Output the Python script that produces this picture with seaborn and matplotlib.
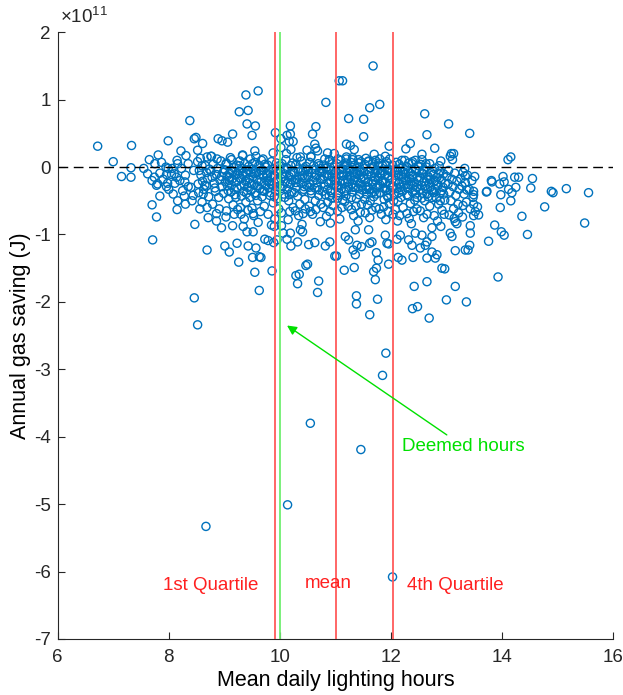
import numpy as np
import pandas as pd
import matplotlib
matplotlib.use("Agg")
import matplotlib.pyplot as plt
from matplotlib.ticker import FuncFormatter
import seaborn as sns

# Points: (mean daily lighting hours, annual gas saving / 1e11 J)
outliers = [(10.14, -5.01), (8.67, -5.33), (10.55, -3.80), (11.46, -4.19), (11.91, -2.76),
            (11.85, -3.09), (8.46, -1.94), (8.52, -2.34), (9.63, -1.83), (10.32, -1.73),
            (10.68, -1.86), (10.70, -1.69), (11.38, -1.91), (11.38, -2.03), (11.76, -1.96),
            (11.62, -2.19), (11.72, -1.67), (12.42, -1.77), (12.65, -1.70), (12.39, -2.10),
            (12.48, -2.07), (12.69, -2.24), (13.00, -1.97), (12.03, -6.08), (13.36, -2.00),
            (13.93, -1.63), (13.16, -1.77)]

upper = [(6.72, 0.31), (7.33, 0.32), (7.99, 0.39), (8.38, 0.69), (8.46, 0.42), (8.49, 0.44),
         (8.61, 0.35), (8.22, 0.24), (8.31, 0.17), (8.52, 0.25), (7.81, 0.18), (7.65, 0.11),
         (7.87, 0.07), (7.75, 0.05), (7.00, 0.08), (7.32, -0.01), (7.15, -0.14), (7.32, -0.15),
         (8.16, 0.05), (8.69, 0.15), (8.76, 0.16), (7.99, -0.02), (8.06, -0.02), (8.23, -0.02),
         (7.74, -0.15), (7.84, -0.09), (7.96, -0.11), (8.05, -0.11), (8.14, -0.15), (8.29, -0.22),
         (7.80, -0.25), (7.98, -0.24), (8.60, 0.02),
         (9.61, 1.13), (9.39, 1.07), (9.27, 0.82), (9.43, 0.84), (9.41, 0.64), (9.56, 0.61),
         (9.50, 0.47), (9.15, 0.49), (8.89, 0.42), (8.96, 0.39), (9.06, 0.37), (10.83, 0.96),
         (10.19, 0.61), (9.92, 0.51), (10.13, 0.47), (10.19, 0.49), (10.24, 0.38), (10.17, 0.38),
         (10.02, 0.42), (10.59, 0.49), (10.65, 0.60), (10.63, 0.34), (9.55, 0.24), (10.49, 0.25),
         (10.68, 0.24), (10.65, 0.28), (10.20, 0.26), (10.02, 0.29), (9.33, 0.17), (9.13, 0.11),
         (8.77, 0.16), (10.86, 0.21), (10.89, 0.11), (9.88, 0.21), (9.70, 0.12), (10.37, 0.15),
         (10.56, 0.15), (11.07, 1.28), (10.98, 0.20),
         (11.68, 1.50), (11.13, 1.28), (11.80, 0.93), (11.62, 0.88), (11.24, 0.72), (11.51, 0.71),
         (11.51, 0.45), (11.20, 0.34), (11.27, 0.32), (11.34, 0.26), (11.97, 0.31), (11.70, 0.19),
         (11.90, 0.16), (11.98, 0.12), (11.05, 0.12), (11.20, 0.12), (11.31, 0.11), (11.42, 0.11),
         (11.46, 0.08), (11.59, 0.08), (11.72, 0.10), (11.78, 0.03), (12.61, 0.79), (13.04, 0.64),
         (12.65, 0.48), (12.35, 0.35), (12.27, 0.27), (12.79, 0.28), (12.56, 0.19), (12.56, 0.11),
         (12.25, 0.10), (12.32, 0.06), (13.09, 0.20), (13.13, 0.20), (13.11, 0.11), (13.07, 0.16),
         (12.90, 0.09), (12.70, 0.05), (12.44, 0.10), (13.42, 0.50), (14.11, 0.11), (14.16, 0.15)]

right = [(13.33, -0.02), (13.51, -0.14), (13.34, -0.13), (13.81, -0.20), (14.02, -0.14),
         (14.04, -0.22), (13.96, -0.25), (14.23, -0.15), (14.30, -0.15), (14.55, -0.17),
         (15.16, -0.32), (15.56, -0.38), (14.52, -0.31), (14.89, -0.36), (14.92, -0.38),
         (14.77, -0.59), (14.16, -0.50), (14.36, -0.73), (15.49, -0.83), (13.97, -0.60),
         (13.72, -0.37), (13.98, -0.41), (13.87, -0.86), (13.99, -0.96), (14.04, -1.01),
         (14.46, -1.00), (13.76, -1.10), (13.43, -0.87), (13.43, -0.98), (13.42, -1.16),
         (13.39, -1.23), (14.12, -0.33), (14.18, -0.38), (14.25, -0.30), (13.30, -0.57),
         (13.49, -0.55), (13.56, -0.59), (13.52, -0.66), (13.58, -0.71), (13.49, -0.72),
         (13.37, -0.34), (13.49, -0.36), (13.49, -0.41), (13.82, -0.22), (13.73, -0.36)]

lower = [(7.71, -1.08), (8.69, -1.23), (7.78, -0.74), (7.70, -0.56), (8.47, -0.85), (8.15, -0.63),
         (8.56, -0.62), (8.69, -0.60), (8.71, -0.75), (7.84, -0.43), (8.08, -0.40), (8.16, -0.50),
         (8.28, -0.43), (8.44, -0.42), (8.62, -0.40), (7.78, -0.27), (7.96, -0.29), (8.11, -0.24),
         (8.35, -0.29), (8.53, -0.25), (8.68, -0.28),
         (9.55, -1.56), (9.86, -1.54), (9.26, -1.41), (9.01, -1.17), (9.09, -1.26), (9.23, -1.13),
         (9.43, -1.17), (9.57, -1.20), (9.51, -1.34), (9.63, -1.33), (9.66, -1.34), (9.73, -1.07),
         (9.79, -1.09), (9.89, -1.12), (9.95, -1.08), (10.29, -1.61), (10.35, -1.59), (10.47, -1.46),
         (10.50, -1.44), (10.99, -1.32), (10.82, -1.17), (10.90, -1.11), (10.52, -1.15),
         (10.63, -1.12), (10.20, -1.17), (10.13, -1.07), (10.32, -1.11), (10.19, -0.98),
         (10.37, -0.93), (10.41, -0.96), (10.03, -0.87), (9.90, -0.88), (9.85, -0.86), (9.34, -0.88),
         (9.15, -0.87), (8.95, -0.90), (9.41, -0.96), (9.52, -0.96), (8.86, -0.69), (8.86, -0.80),
         (9.04, -0.65), (9.18, -0.70), (9.30, -0.70), (9.52, -0.69), (9.50, -0.61), (10.18, -0.66),
         (10.42, -0.69), (10.55, -0.66), (10.73, -0.81), (10.91, -0.83), (10.06, -0.98),
         (11.16, -1.53), (11.34, -1.49), (11.69, -1.55), (11.74, -1.50), (11.77, -1.38),
         (11.96, -1.44), (12.13, -1.34), (12.20, -1.38), (12.40, -1.34), (12.92, -1.50),
         (12.97, -1.51), (11.02, -1.32), (11.32, -1.23), (11.36, -1.30), (11.47, -1.18),
         (11.39, -1.16), (11.74, -1.27), (11.62, -1.13), (11.96, -1.14), (12.11, -1.07),
         (12.38, -1.16), (12.62, -1.16), (12.74, -1.26), (12.83, -1.30), (12.80, -1.35),
         (12.65, -1.35), (12.53, -1.20), (13.16, -1.24), (13.34, -1.23), (13.07, -0.98),
         (13.10, -1.03), (13.16, -0.81), (13.19, -0.84), (11.18, -1.03), (11.24, -1.08),
         (11.36, -0.93), (11.60, -0.93), (11.66, -1.11), (11.90, -1.01), (11.93, -1.13),
         (12.17, -1.01), (12.32, -1.08), (12.44, -0.98), (12.56, -1.01), (12.65, -1.11),
         (12.74, -1.03), (7.55, -0.02), (7.62, -0.10), (7.70, -0.20), (7.90, -0.18), (8.00, -0.33),
         (8.10, -0.10), (8.20, -0.20), (8.30, -0.12), (8.40, -0.30), (8.45, -0.05), (8.35, 0.05),
         (8.25, -0.35), (7.95, 0.00), (8.15, 0.10), (8.42, -0.50), (8.30, -0.55)]

core_a = [(8.52, 0.08), (8.55, -0.05), (8.58, -0.12), (8.61, -0.21), (8.63, -0.33), (8.66, 0.02),
          (8.68, -0.08), (8.70, -0.17), (8.72, -0.44), (8.54, -0.38), (8.60, -0.52), (8.65, -0.27),
          (8.73, -0.03), (8.57, 0.13), (8.76, -0.06), (8.78, -0.15), (8.80, 0.04), (8.82, -0.24),
          (8.84, -0.36), (8.86, -0.11), (8.88, -0.02), (8.90, -0.45), (8.92, -0.19), (8.94, 0.09),
          (8.96, -0.29), (8.98, -0.08), (8.79, -0.55), (8.83, -0.31), (8.87, 0.12), (8.91, -0.62),
          (8.95, -0.14), (8.99, -0.39), (9.01, -0.04), (9.02, -0.22), (9.04, 0.06), (9.05, -0.13),
          (9.07, -0.35), (9.08, -0.47), (9.10, -0.09), (9.11, 0.14), (9.13, -0.27), (9.14, -0.18),
          (9.16, -0.56), (9.17, -0.01), (9.19, -0.41), (9.20, -0.12), (9.22, 0.03), (9.23, -0.31),
          (9.24, -0.63), (9.03, -0.74), (9.09, -0.20), (9.15, -0.07), (9.21, -0.22), (9.12, -0.37),
          (9.26, -0.06), (9.27, -0.16), (9.28, 0.09), (9.30, -0.28), (9.31, -0.43), (9.32, -0.02),
          (9.34, -0.12), (9.35, -0.36), (9.37, 0.05), (9.38, -0.21), (9.39, -0.52), (9.41, -0.09),
          (9.42, -0.30), (9.44, 0.01), (9.45, -0.17), (9.46, -0.45), (9.48, -0.08), (9.49, -0.25),
          (9.29, -0.60), (9.36, -0.77), (9.43, -0.64), (9.33, 0.18), (9.40, -0.39), (9.47, 0.12),
          (9.51, -0.03), (9.52, -0.14), (9.54, -0.26), (9.55, 0.07), (9.56, -0.38), (9.58, -0.08),
          (9.59, -0.19), (9.60, -0.50), (9.62, 0.02), (9.63, -0.11), (9.64, -0.32), (9.66, -0.22),
          (9.67, 0.10), (9.68, -0.44), (9.70, -0.05), (9.71, -0.15), (9.72, -0.58), (9.74, -0.27),
          (9.53, -0.72), (9.61, -0.82), (9.65, -0.66), (9.69, -0.35), (9.57, 0.16), (9.73, 0.04),
          (9.76, -0.10), (9.77, -0.20), (9.78, 0.03), (9.80, -0.31), (9.81, -0.06), (9.82, -0.42),
          (9.84, -0.15), (9.85, 0.08), (9.86, -0.26), (9.88, -0.53), (9.89, -0.02), (9.90, -0.12),
          (9.92, -0.35), (9.93, -0.21), (9.94, 0.06), (9.96, -0.47), (9.97, -0.08), (9.98, -0.62),
          (9.79, -0.70), (9.83, -0.38), (9.91, -0.77), (9.95, -0.29)]

core_b = [(10.01, -0.05), (10.02, -0.17), (10.04, 0.05), (10.05, -0.28), (10.07, -0.40),
          (10.08, -0.10), (10.10, -0.21), (10.11, 0.11), (10.13, -0.33), (10.14, -0.02),
          (10.16, -0.50), (10.17, -0.14), (10.19, -0.25), (10.20, 0.02), (10.22, -0.37),
          (10.23, -0.07), (10.24, -0.60), (10.03, -0.68), (10.09, -0.45), (10.15, -0.78),
          (10.21, -0.19), (10.12, 0.20), (10.26, -0.09), (10.27, -0.19), (10.29, 0.04),
          (10.30, -0.30), (10.32, -0.43), (10.33, -0.03), (10.35, -0.14), (10.36, -0.55),
          (10.38, -0.24), (10.39, 0.09), (10.41, -0.36), (10.42, -0.06), (10.44, -0.16),
          (10.45, -0.48), (10.47, 0.01), (10.48, -0.27), (10.28, -0.65), (10.34, -0.72),
          (10.40, -0.85), (10.46, -0.62), (10.31, 0.14), (10.43, -0.33), (10.51, -0.04),
          (10.52, -0.15), (10.54, 0.07), (10.55, -0.26), (10.57, -0.39), (10.58, -0.09),
          (10.60, -0.20), (10.61, 0.02), (10.63, -0.31), (10.64, -0.50), (10.66, -0.12),
          (10.67, -0.23), (10.69, 0.05), (10.70, -0.42), (10.72, -0.07), (10.73, -0.17),
          (10.53, -0.58), (10.59, -0.70), (10.65, -0.63), (10.71, -0.34), (10.56, 0.16),
          (10.74, -0.55), (10.76, -0.08), (10.77, -0.18), (10.79, 0.03), (10.80, -0.29),
          (10.82, -0.41), (10.83, -0.02), (10.85, -0.13), (10.86, -0.52), (10.88, -0.24),
          (10.89, 0.08), (10.91, -0.35), (10.92, -0.05), (10.94, -0.15), (10.95, -0.46),
          (10.97, 0.00), (10.98, -0.26), (10.78, -0.60), (10.84, -0.73), (10.90, -0.66),
          (10.96, -0.57), (10.81, 0.12), (10.93, -0.38), (10.87, -0.11), (10.99, -0.20)]

core_c = [(11.01, -0.06), (11.02, -0.16), (11.03, 0.05), (11.05, -0.27), (11.06, -0.38),
          (11.07, -0.10), (11.09, -0.21), (11.10, 0.10), (11.11, -0.32), (11.13, -0.49),
          (11.14, -0.03), (11.15, -0.13), (11.17, -0.24), (11.18, 0.02), (11.19, -0.43),
          (11.21, -0.08), (11.22, -0.18), (11.23, -0.58), (11.24, -0.30), (11.04, -0.65),
          (11.08, -0.77), (11.12, -0.60), (11.16, -0.36), (11.20, 0.15), (11.04, -0.46),
          (11.24, -0.02), (11.26, -0.04), (11.27, -0.14), (11.28, 0.07), (11.30, -0.25),
          (11.31, -0.37), (11.32, -0.08), (11.34, -0.19), (11.35, 0.03), (11.36, -0.30),
          (11.38, -0.47), (11.39, -0.10), (11.40, -0.22), (11.42, 0.06), (11.43, -0.41),
          (11.44, -0.05), (11.46, -0.16), (11.47, -0.55), (11.48, -0.28), (11.29, -0.63),
          (11.33, -0.72), (11.37, -0.58), (11.41, -0.80), (11.45, -0.67), (11.49, -0.34),
          (11.31, 0.14), (11.44, -0.12), (11.51, -0.07), (11.52, -0.17), (11.53, 0.04),
          (11.55, -0.28), (11.56, -0.40), (11.57, -0.11), (11.59, -0.22), (11.60, 0.09),
          (11.61, -0.33), (11.63, -0.50), (11.64, -0.02), (11.65, -0.14), (11.67, -0.25),
          (11.68, 0.01), (11.69, -0.44), (11.71, -0.09), (11.72, -0.19), (11.73, -0.60),
          (11.74, -0.31), (11.54, -0.68), (11.58, -0.56), (11.62, -0.75), (11.66, -0.64),
          (11.70, -0.37), (11.55, 0.13), (11.73, -0.05), (11.76, -0.05), (11.77, -0.15),
          (11.78, 0.06), (11.80, -0.26), (11.81, -0.38), (11.82, -0.09), (11.84, -0.20),
          (11.85, 0.02), (11.86, -0.31), (11.88, -0.48), (11.89, -0.11), (11.90, -0.23),
          (11.92, 0.08), (11.93, -0.42), (11.94, -0.04), (11.96, -0.16), (11.97, -0.54),
          (11.98, -0.27), (11.79, -0.62), (11.83, -0.70), (11.87, -0.59), (11.91, -0.78),
          (11.95, -0.66), (11.99, -0.35), (11.80, 0.12), (11.95, -0.13)]

core_d = [(12.01, -0.08), (12.02, -0.18), (12.03, 0.03), (12.05, -0.29), (12.06, -0.41),
          (12.07, -0.06), (12.09, -0.20), (12.10, 0.07), (12.11, -0.32), (12.13, -0.51),
          (12.14, -0.12), (12.15, -0.24), (12.17, -0.02), (12.18, -0.45), (12.19, -0.14),
          (12.21, -0.36), (12.22, -0.60), (12.24, -0.27), (12.04, -0.70), (12.08, -0.63),
          (12.12, -0.80), (12.16, -0.72), (12.20, 0.10), (12.23, -0.07), (12.26, -0.10),
          (12.27, -0.20), (12.28, 0.01), (12.30, -0.31), (12.31, -0.43), (12.32, -0.07),
          (12.34, -0.17), (12.35, -0.54), (12.36, -0.26), (12.38, 0.05), (12.39, -0.37),
          (12.40, -0.12), (12.42, -0.22), (12.43, -0.49), (12.44, -0.03), (12.46, -0.30),
          (12.47, -0.62), (12.48, -0.15), (12.29, -0.69), (12.33, -0.76), (12.37, -0.84),
          (12.41, -0.66), (12.45, -0.40), (12.49, 0.02), (12.51, -0.06), (12.52, -0.16),
          (12.54, 0.04), (12.55, -0.27), (12.57, -0.39), (12.58, -0.10), (12.60, -0.21),
          (12.61, -0.50), (12.63, -0.32), (12.64, 0.00), (12.66, -0.13), (12.67, -0.44),
          (12.69, -0.24), (12.70, -0.58), (12.72, -0.08), (12.73, -0.35), (12.53, -0.65),
          (12.59, -0.75), (12.65, -0.70), (12.71, -0.18), (12.56, -0.46), (12.74, -0.90),
          (12.76, -0.11), (12.77, -0.22), (12.79, -0.02), (12.80, -0.33), (12.82, -0.46),
          (12.83, -0.15), (12.85, -0.27), (12.86, -0.55), (12.88, -0.06), (12.89, -0.38),
          (12.91, -0.19), (12.92, -0.64), (12.94, -0.30), (12.95, -0.10), (12.97, -0.49),
          (12.98, -0.24), (12.78, -0.72), (12.84, -0.80), (12.90, -0.88), (12.96, -0.70),
          (13.01, -0.14), (13.03, -0.25), (13.04, -0.05), (13.06, -0.37), (13.08, -0.50),
          (13.10, -0.18), (13.12, -0.29), (13.13, -0.62), (13.15, -0.09), (13.17, -0.42),
          (13.19, -0.21), (13.21, -0.55), (13.23, -0.33), (13.05, -0.71), (13.14, -0.76),
          (13.22, -0.68), (13.26, -0.17), (13.28, -0.28), (13.30, -0.08), (13.32, -0.40),
          (13.34, -0.23), (13.36, -0.52), (13.38, -0.12), (13.41, -0.33), (13.43, -0.62),
          (13.46, -0.20), (13.48, -0.45), (13.29, -0.74)]

# the densest band just under the zero line
core_e = [(9.06, -0.28), (9.12, -0.05), (9.18, -0.33), (9.24, -0.10), (9.30, -0.17), (9.36, -0.26),
          (9.42, -0.04), (9.48, -0.35), (9.54, -0.10), (9.60, -0.28), (9.66, -0.05), (9.72, -0.36),
          (9.78, -0.13), (9.84, -0.25), (9.90, -0.44), (9.96, -0.18), (9.09, -0.15), (9.21, -0.45),
          (9.33, -0.09), (9.45, -0.23), (9.57, -0.42), (9.69, -0.12), (9.81, -0.22), (9.93, -0.05),
          (10.02, -0.32), (10.08, -0.02), (10.14, -0.24), (10.20, -0.11), (10.26, -0.38),
          (10.32, -0.18), (10.38, -0.06), (10.44, -0.29), (10.50, -0.12), (10.56, -0.35),
          (10.62, -0.15), (10.68, -0.30), (10.74, -0.02), (10.80, -0.14), (10.86, -0.33),
          (10.92, -0.20), (10.98, -0.10), (10.05, -0.14), (10.17, -0.41), (10.29, -0.23),
          (10.41, -0.13), (10.53, -0.30), (10.65, -0.04), (10.77, -0.36), (10.89, -0.43),
          (11.02, -0.29), (11.08, -0.04), (11.14, -0.20), (11.20, -0.35), (11.26, -0.12),
          (11.32, -0.30), (11.38, -0.02), (11.44, -0.25), (11.50, -0.14), (11.56, -0.33),
          (11.62, -0.07), (11.68, -0.21), (11.74, -0.40), (11.80, -0.10), (11.86, -0.22),
          (11.92, -0.35), (11.98, -0.04), (11.05, -0.42), (11.11, -0.12), (11.17, -0.51),
          (11.23, -0.22), (11.29, -0.45), (11.35, -0.15), (11.41, -0.32), (11.47, -0.07),
          (11.53, -0.48), (11.59, -0.30), (11.65, -0.38), (11.71, -0.15), (11.77, -0.28),
          (11.83, -0.05), (11.89, -0.32), (11.95, -0.45), (12.02, -0.30), (12.08, -0.12),
          (12.14, -0.38), (12.20, -0.22), (12.26, -0.04), (12.32, -0.26), (12.38, -0.14),
          (12.44, -0.35), (12.50, -0.20), (12.56, -0.09), (12.62, -0.28), (12.68, -0.15),
          (12.74, -0.45), (12.80, -0.20), (12.86, -0.10), (12.92, -0.35), (12.05, -0.50),
          (12.11, -0.04), (12.17, -0.30), (12.23, -0.16), (12.29, -0.41), (12.35, -0.09),
          (12.41, -0.28), (12.47, -0.45), (12.53, -0.33), (12.59, -0.04), (12.65, -0.40),
          (12.71, -0.30), (12.77, -0.38), (12.83, -0.25), (12.89, -0.50), (12.95, -0.40),
          (9.03, 0.04), (9.27, 0.02), (9.51, 0.05), (9.75, 0.00), (9.99, 0.02), (10.23, 0.06),
          (10.47, -0.03), (10.71, 0.02), (10.95, 0.05), (11.19, 0.06), (11.43, 0.00),
          (11.67, 0.05), (11.91, 0.03), (12.15, 0.04), (12.39, 0.08), (12.63, 0.05), (12.87, 0.02)]

# reference lines (hours)
q1_hours = 9.91
deemed_hours = 10.0
mean_hours = 11.01
q4_hours = 12.03

groups = [outliers, upper, right, lower, core_a, core_b, core_c, core_d, core_e]
pts = np.array([p for g in groups for p in g])
df = pd.DataFrame({"hours": pts[:, 0], "saving": pts[:, 1] * 1e11})

plt.rcParams["font.family"] = ["Liberation Sans", "DejaVu Sans"]
plt.rcParams["axes.unicode_minus"] = False
plt.rcParams["mathtext.fontset"] = "custom"
plt.rcParams["mathtext.rm"] = "Liberation Sans"
fig = plt.figure(figsize=(6.23, 6.95), dpi=100)
ax = fig.add_axes([0.0926, 0.0806, 0.8913, 0.873])

sns.scatterplot(data=df, x="hours", y="saving", ax=ax, marker="o", s=34,
                facecolor="none", edgecolor="#0072BD", linewidth=1.0, zorder=2)

ax.axhline(0, color="black", lw=1.0, dashes=(7, 4), zorder=3)
for xv in [q1_hours, mean_hours, q4_hours]:
    ax.axvline(xv, color="#ff5a5a", lw=1.3, zorder=3)
ax.axvline(deemed_hours, color="#6fef6f", lw=1.3, zorder=3)

ax.text(8.75, -6.2e11, "1st Quartile", color="#ff2020", fontsize=13.5, ha="center", va="center")
ax.text(10.87, -6.17e11, "mean", color="#ff2020", fontsize=13.5, ha="center", va="center")
ax.text(13.16, -6.2e11, "4th Quartile", color="#ff2020", fontsize=13.5, ha="center", va="center")
ax.annotate("Deemed hours", xy=(10.13, -2.35e11), xytext=(12.2, -4.14e11),
            color="#00e000", fontsize=13.5, va="center", ha="left",
            arrowprops=dict(arrowstyle="-|>", color="#00e000", lw=1.0,
                            shrinkA=0, shrinkB=0, mutation_scale=14))

ax.set_xlim(6, 16)
ax.set_ylim(-7e11, 2e11)
ax.set_xticks([6, 8, 10, 12, 14, 16])
ax.set_yticks(np.arange(-7, 3) * 1e11)
ax.yaxis.set_major_formatter(FuncFormatter(lambda v, pos: "%d" % round(v / 1e11)))
ax.text(0.005, 1.008, r"$\times\mathregular{10^{11}}$", transform=ax.transAxes,
        fontsize=13.5, color="#262626", ha="left", va="bottom")

ax.set_xlabel("Mean daily lighting hours", fontsize=15.5, labelpad=3)
ax.set_ylabel("Annual gas saving (J)", fontsize=15.5, labelpad=2)
for side in ["top", "right"]:
    ax.spines[side].set_visible(False)
for side in ["left", "bottom"]:
    ax.spines[side].set_color("#262626")
    ax.spines[side].set_linewidth(0.8)
ax.tick_params(direction="in", length=5, width=0.8, colors="#262626", labelsize=13.5)
ax.tick_params(axis="x", pad=7)
ax.tick_params(axis="y", pad=5)

fig.savefig("out.png", dpi=100)
